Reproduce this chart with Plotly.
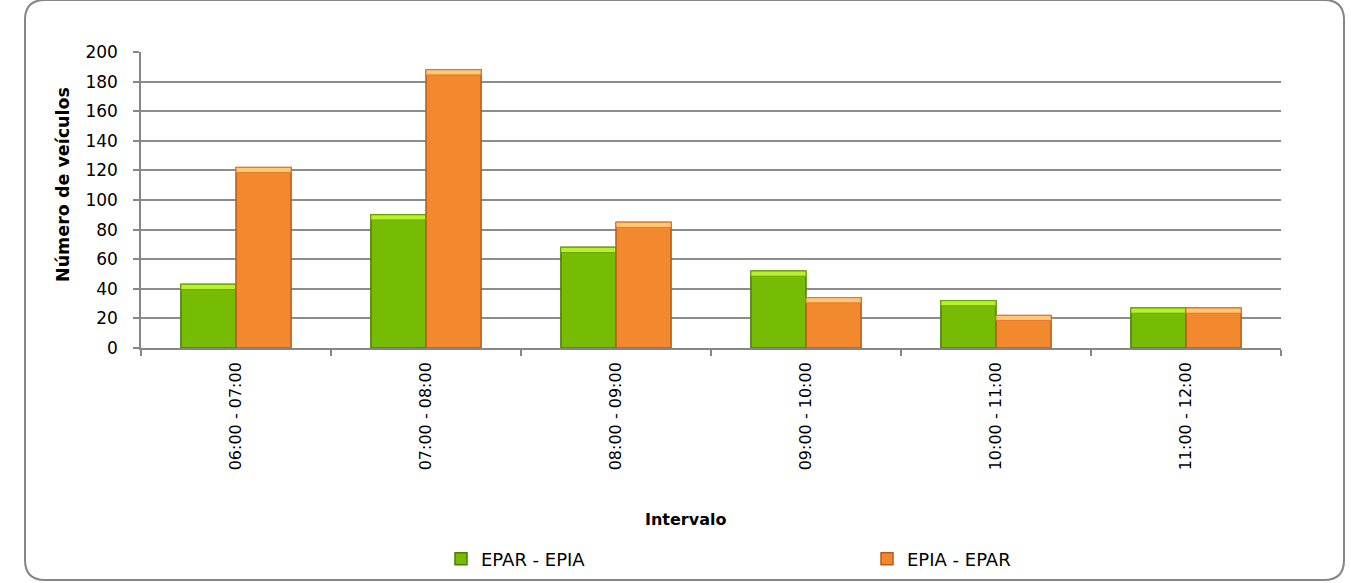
import plotly.graph_objects as go

categories = ["06:00 - 07:00", "07:00 - 08:00", "08:00 - 09:00",
              "09:00 - 10:00", "10:00 - 11:00", "11:00 - 12:00"]
epar_epia = [43, 90, 68, 52, 32, 27]
epia_epar = [122, 188, 85, 34, 22, 27]
y_ticks = [0, 20, 40, 60, 80, 100, 120, 140, 160, 180, 200]

W, H = 1351, 583
L, R, T, B = 141, 70, 52, 235
PW, PH = W - L - R, H - T - B

def px(x):
    return (x - L) / PW

def py(y):
    return (H - B - y) / PH

FONT = "DejaVu Sans"
CAP = 3.5  # height of the light bevel strip on top of each bar, in data units

fig = go.Figure()
fig.add_trace(go.Bar(
    x=categories, y=epar_epia, name="EPAR - EPIA", offsetgroup="g",
    marker=dict(color="#76bb04", line=dict(color="#4f7d00", width=1.5)),
    legend="legend",
))
fig.add_trace(go.Bar(
    x=categories, y=[CAP] * len(epar_epia), base=[v - CAP for v in epar_epia],
    offsetgroup="g", showlegend=False, hoverinfo="skip",
    marker=dict(color="#b9ef2c", line=dict(color="#6aa800", width=1)),
))
fig.add_trace(go.Bar(
    x=categories, y=epia_epar, name="EPIA - EPAR", offsetgroup="o",
    marker=dict(color="#f2892f", line=dict(color="#b85b1b", width=1.5)),
    legend="legend2",
))
fig.add_trace(go.Bar(
    x=categories, y=[CAP] * len(epia_epar), base=[v - CAP for v in epia_epar],
    offsetgroup="o", showlegend=False, hoverinfo="skip",
    marker=dict(color="#ffc978", line=dict(color="#e07a2a", width=1)),
))

# rounded border around chart area
x0, x1, y0, y1, r = 25, 1344, 0, 580, 20
path = (
    f"M {px(x0+r)},{py(y0)} L {px(x1-r)},{py(y0)} "
    f"Q {px(x1)},{py(y0)} {px(x1)},{py(y0+r)} "
    f"L {px(x1)},{py(y1-r)} Q {px(x1)},{py(y1)} {px(x1-r)},{py(y1)} "
    f"L {px(x0+r)},{py(y1)} Q {px(x0)},{py(y1)} {px(x0)},{py(y1-r)} "
    f"L {px(x0)},{py(y0+r)} Q {px(x0)},{py(y0)} {px(x0+r)},{py(y0)} Z"
)

legend_font = dict(size=18, family=FONT, color="black")

fig.update_layout(
    width=W, height=H,
    margin=dict(l=L, r=R, t=T, b=B, autoexpand=False),
    paper_bgcolor="white", plot_bgcolor="white",
    font=dict(family=FONT, size=17, color="black"),
    barmode="group", bargap=0.42, bargroupgap=0,
    showlegend=True,
    legend=dict(orientation="h", x=px(441), y=py(559), xanchor="left", yanchor="middle",
                font=legend_font, itemwidth=30, bgcolor="rgba(0,0,0,0)"),
    legend2=dict(orientation="h", x=px(867), y=py(559), xanchor="left", yanchor="middle",
                 font=legend_font, itemwidth=30, bgcolor="rgba(0,0,0,0)"),
    shapes=[dict(type="path", path=path, xref="paper", yref="paper",
                 line=dict(color="#868686", width=2), layer="below")],
    annotations=[
        dict(text="<b>Intervalo</b>", x=px(685), y=py(519), xref="paper", yref="paper",
             showarrow=False, font=dict(size=16, family=FONT), xanchor="center", yanchor="middle"),
        dict(text="<b>Número de veículos</b>", x=px(63), y=py(185), xref="paper", yref="paper",
             showarrow=False, textangle=-90, font=dict(size=17.5, family=FONT),
             xanchor="center", yanchor="middle"),
    ],
)
fig.update_xaxes(
    type="category", tickangle=-90, tickson="boundaries", automargin=False,
    ticks="outside", ticklen=6, tickcolor="#868686", tickwidth=1.5,
    showline=True, linecolor="#868686", linewidth=1.5,
    showgrid=False, tickfont=dict(size=16, family=FONT),
    ticklabelstandoff=6,
)
fig.update_yaxes(
    range=[0, 200], tickvals=y_ticks, ticks="outside", ticklen=6, automargin=False,
    tickcolor="#868686", tickwidth=1.5,
    showline=True, linecolor="#868686", linewidth=1.5,
    showgrid=True, gridcolor="#8c8c8c", gridwidth=1.5,
    zeroline=False, tickfont=dict(size=17, family=FONT),
    ticklabelstandoff=12,
)

fig.write_html("out.html", config={"displayModeBar": False},
               post_script="document.body.style.margin='0';")
